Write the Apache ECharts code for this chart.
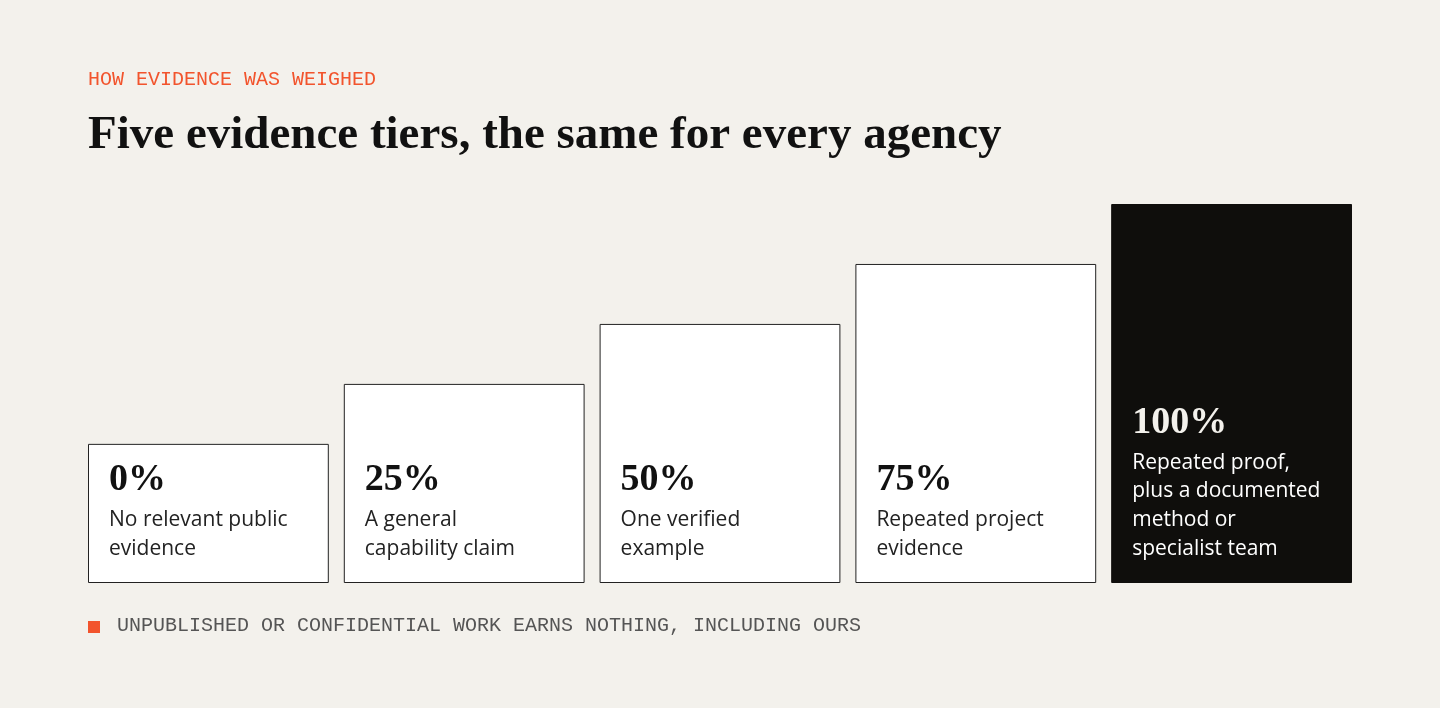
<!DOCTYPE html>
<html><head><meta charset="utf-8">
<script src="https://cdn.jsdelivr.net/npm/echarts@6/dist/echarts.min.js"></script>
<style>html,body{margin:0;padding:0;background:#f3f1ec}#c{width:1440px;height:708px}</style>
</head><body><div id="c"></div>
<script>
const categories = ['0%','25%','50%','75%','100%'];
const values = [0,25,50,75,100];
const descriptions = [
  'No relevant public\nevidence',
  'A general\ncapability claim',
  'One verified\nexample',
  'Repeated project\nevidence',
  'Repeated proof,\nplus a documented\nmethod or\nspecialist team'
];
const AXIS_MIN = -58;
const chart = echarts.init(document.getElementById('c'));
chart.setOption({
  backgroundColor:'#f3f1ec',
  animation:false,
  graphic:[
    {type:'text',left:88,top:70,style:{text:'HOW EVIDENCE WAS WEIGHED',fill:'#f2542d',font:'20px "Liberation Mono"'}},
    {type:'text',left:88,top:112,style:{text:'Five evidence tiers, the same for every agency',fill:'#111',font:'bold 47px "Liberation Serif"'}},
    {type:'rect',left:88,top:621,shape:{width:12,height:12},style:{fill:'#f2542d'}},
    {type:'text',left:117,top:616,style:{text:'UNPUBLISHED OR CONFIDENTIAL WORK EARNS NOTHING, INCLUDING OURS',fill:'#555',font:'20px "Liberation Mono"'}}
  ],
  grid:{left:80.5,right:80.5,top:204,bottom:125},
  xAxis:{type:'category',data:categories,show:false},
  yAxis:{type:'value',min:AXIS_MIN,max:100,show:false},
  series:[{
    type:'custom',
    data:values.map((v,i)=>[i,v]),
    renderItem:(params,api)=>{
      const i=api.value(0),v=api.value(1);
      const top=api.coord([i,v]),bot=api.coord([i,AXIS_MIN]);
      const w=api.size([1,0])[0]-15;
      const x=top[0]-w/2;
      const dark=i===4;
      const lines=descriptions[i].split('\n').length;
      const descTop=bot[1]-20-lines*28.7;
      return {type:'group',children:[
        {type:'rect',shape:{x:x+0.5,y:top[1]+0.5,width:w-1,height:bot[1]-top[1]-1},
         style:{fill:dark?'#0f0e0c':'#fff',stroke:dark?'#0f0e0c':'#222',lineWidth:1}},
        {type:'text',x:x+21,y:descTop-6,style:{text:categories[i],fill:dark?'#f3f1ec':'#111',font:'bold 38px "Liberation Serif"',textVerticalAlign:'bottom'}},
        {type:'text',x:x+21,y:descTop,style:{text:descriptions[i],fill:dark?'#fff':'#222',font:'21px "Open Sans"',lineHeight:28.7,textVerticalAlign:'top'}}
      ]};
    }
  }]
});
</script></body></html>
